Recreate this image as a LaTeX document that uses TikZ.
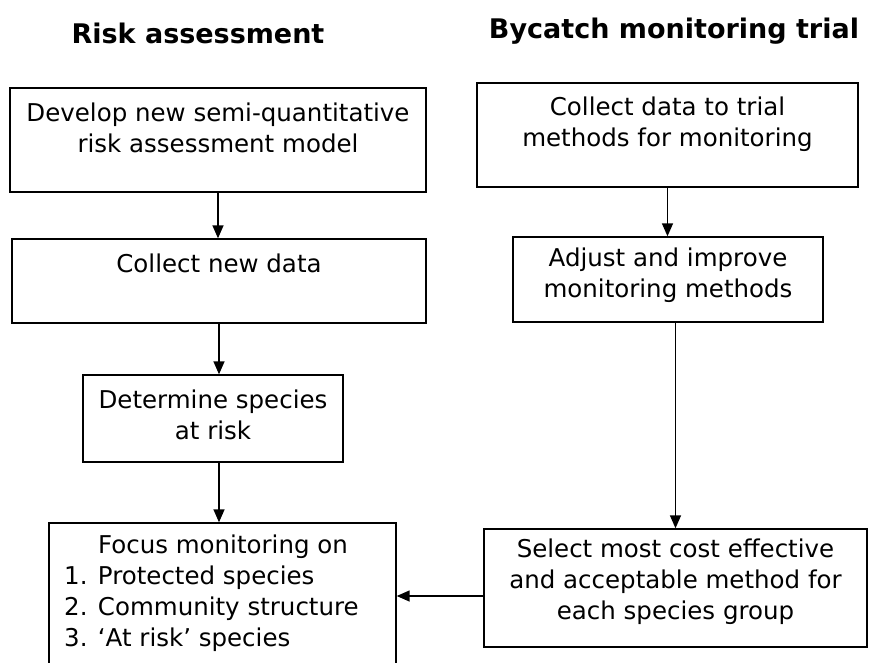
\documentclass[tikz,border=0pt]{standalone}
\usepackage{fontspec}
\setmainfont{DejaVu Sans}
\usetikzlibrary{arrows.meta}
\begin{document}
\begin{tikzpicture}[x=1pt,y=-1pt,
  box/.style={draw, line width=1.4pt, inner sep=0pt},
  txt/.style={align=center, font=\fontsize{24.5}{31}\selectfont, inner sep=0pt},
  ttl/.style={font=\fontsize{27}{30}\selectfont\bfseries, inner sep=0pt},
  arr/.style={line width=1.5pt, -{Triangle[length=13pt,width=11pt]}}]
\useasboundingbox (0,0) rectangle (870,662);
% titles
\node[ttl] (tl) at (198,33) {Risk assessment};
\node[ttl] (tr) at (674,31) {Bycatch monitoring trial};
% left boxes
\node[box, minimum width=416pt, minimum height=104pt] (b1) at (218,140) {};
\node[txt] (t1) at (218,128) {Develop new semi-quantitative\\risk assessment model};
\node[box, minimum width=414pt, minimum height=84pt] (b2) at (219,281) {};
\node[txt] (t2) at (219,263) {Collect new data};
\node[box, minimum width=260pt, minimum height=87pt] (b3) at (213,418.5) {};
\node[txt] (t3) at (213,415) {Determine species\\at risk};
\node[box, minimum width=347pt, minimum height=142pt] (b4) at (222.5,594) {};
\node[txt] (t4a) at (223,547) {Focus monitoring on};
\node[txt, align=left, anchor=west] (t4b) at (64,609) {1. Protected species\\2. Community structure\\3. ‘At risk’ species};
% right boxes
\node[box, minimum width=381pt, minimum height=104pt] (r1) at (667.5,135) {};
\node[txt] (s1) at (667.5,124) {Collect data to trial\\methods for monitoring};
\node[box, minimum width=310pt, minimum height=85pt] (r2) at (668,279.5) {};
\node[txt] (s2) at (668,275) {Adjust and improve\\monitoring methods};
\node[box, minimum width=383pt, minimum height=118pt] (r5) at (675.5,588) {};
\node[txt] (s5) at (675.5,582) {Select most cost effective\\and acceptable method for\\each species group};
% arrows
\coordinate (m) at (0,596);
\draw[arr] (b1.south) -- (b1.south |- b2.north);
\draw[arr] (b2.south) -- (b2.south |- b3.north);
\draw[arr] (b3.south -| b2.south) -- (b4.north -| b2.south);
\draw[arr] (r1.south) -- (r1.south |- r2.north);
\draw[arr] (r2.south -| r5.north) -- (r5.north);
\draw[arr] (r5.west |- m) -- (b4.east |- m);
\end{tikzpicture}
\end{document}
